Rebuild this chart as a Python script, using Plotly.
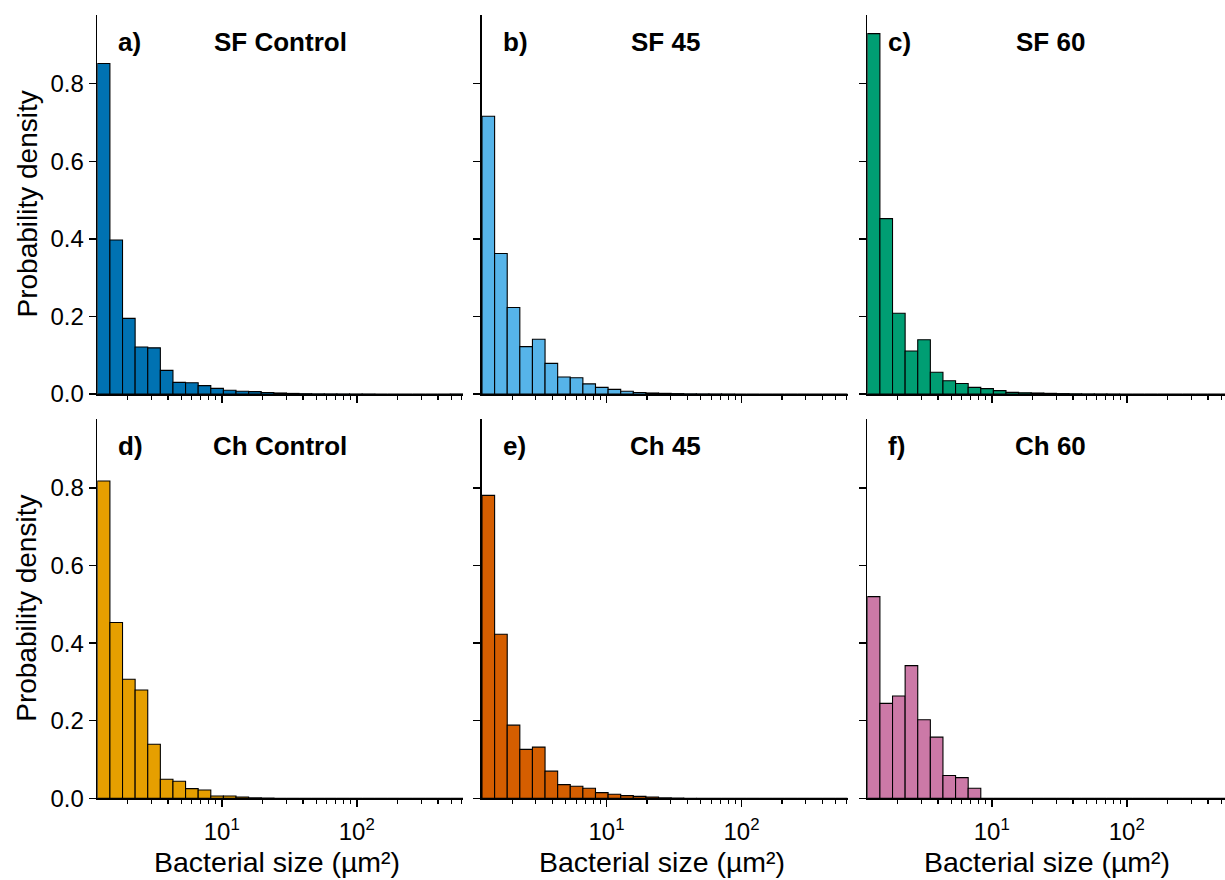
import numpy as np
import plotly.graph_objects as go

# ---- data ----
panel_letters = ["a)", "b)", "c)", "d)", "e)", "f)"]
panel_titles = ["SF Control", "SF 45", "SF 60", "Ch Control", "Ch 45", "Ch 60"]
colors = ["#0072B2", "#56B4E9", "#009E73", "#E69F00", "#D55E00", "#CC79A7"]

log_min = 0.078   # log10 of smallest bacterial size (~1.2 um^2)
log_max = 2.787   # log10 of largest bacterial size (~612 um^2)
n_bins = 29

sf_control = [0.852, 0.397, 0.195, 0.121, 0.119, 0.061, 0.030, 0.029, 0.0215, 0.0146,
              0.0095, 0.007, 0.006, 0.004, 0.0026, 0.0015, 0.0008, 0.0004, 0.0003, 0.0002,
              0.0001, 0.0001, 0.0, 0.0, 0.0, 0.0, 0.0, 0.0, 0.0001]
sf_45 = [0.716, 0.362, 0.223, 0.122, 0.141, 0.079, 0.044, 0.042, 0.026, 0.017,
         0.012, 0.007, 0.004, 0.0026, 0.0017, 0.001, 0.0005, 0.0003, 0.0002, 0.0001,
         0.0, 0.0, 0.0, 0.0, 0.0, 0.0, 0.0, 0.0, 0.0]
sf_60 = [0.929, 0.452, 0.208, 0.111, 0.140, 0.056, 0.034, 0.027, 0.017, 0.0138,
         0.0086, 0.0043, 0.0034, 0.0026, 0.0017, 0.001, 0.0006, 0.0003, 0.0002, 0.0001,
         0.0, 0.0, 0.0, 0.0, 0.0, 0.0, 0.0, 0.0, 0.0]
ch_control = [0.818, 0.453, 0.307, 0.279, 0.1395, 0.049, 0.044, 0.025, 0.0215, 0.006,
              0.006, 0.0035, 0.001, 0.0005, 0.0, 0.0, 0.0, 0.0, 0.0, 0.0,
              0.0, 0.0, 0.0, 0.0, 0.0, 0.0, 0.0, 0.0, 0.0]
ch_45 = [0.781, 0.423, 0.1886, 0.126, 0.132, 0.070, 0.0353, 0.031, 0.0258, 0.0146,
         0.0103, 0.0069, 0.005, 0.0034, 0.001, 0.0005, 0.0002, 0.0, 0.0, 0.0,
         0.0, 0.0, 0.0, 0.0, 0.0, 0.0, 0.0, 0.0, 0.0]
ch_60 = [0.520, 0.2446, 0.2636, 0.342, 0.2024, 0.1576, 0.0586, 0.0534, 0.0258, 0.0,
         0.0, 0.0, 0.0, 0.0, 0.0, 0.0, 0.0, 0.0, 0.0, 0.0,
         0.0, 0.0, 0.0, 0.0, 0.0, 0.0, 0.0, 0.0, 0.0]
series = [sf_control, sf_45, sf_60, ch_control, ch_45, ch_60]

y_tickvals = [0.0, 0.2, 0.4, 0.6, 0.8]
y_ticktext = ["0.0", "0.2", "0.4", "0.6", "0.8"]
x_tickvals = [10, 100]
x_ticktext = ["10<sup>1</sup>", "10<sup>2</sup>"]
x_minor = [2, 3, 4, 5, 6, 7, 8, 9, 20, 30, 40, 50, 60, 70, 80, 90, 200, 300, 400, 500, 600]
y_max = 0.977

# ---- layout geometry (reference pixels, 1225 x 880 target) ----
W, H_REF = 1225, 880
H = 893  # page is rendered slightly squeezed vertically; positions below use fractions of H_REF
px_per_decade = (463 - 97.3) / (log_max - log_min)
col_left = [97.3, 482.0, 867.3]
col_right = [463.0, 847.5, 1225.0]
row_top = [15.0, 419.3]
row_bot = [394.0, 798.3]

edges = np.logspace(log_min, log_max, n_bins + 1)
centers = (edges[:-1] + edges[1:]) / 2
widths = edges[1:] - edges[:-1]

FONT = "Liberation Sans, Arial, sans-serif"
fig = go.Figure()
annotations = []

for i in range(6):
    r, c = divmod(i, 3)
    idx = "" if i == 0 else str(i + 1)
    xa, ya = "x" + idx, "y" + idx
    fig.add_trace(go.Bar(
        x=centers, y=series[i], width=widths,
        marker=dict(color=colors[i], line=dict(color="black", width=1.1)),
        xaxis=xa, yaxis=ya, showlegend=False, hoverinfo="skip",
    ))
    x0 = col_left[c] / W
    x1 = col_right[c] / W
    right_log = log_min + (col_right[c] - col_left[c]) / px_per_decade
    y0 = 1 - row_bot[r] / H_REF
    y1 = 1 - row_top[r] / H_REF
    fig.layout["xaxis" + idx] = dict(
        type="log", domain=[x0, x1], range=[log_min, right_log], anchor=ya,
        showline=True, linecolor="black", linewidth=1.6, showgrid=False, zeroline=False,
        tickvals=x_tickvals, ticktext=x_ticktext if r == 1 else ["", ""],
        showticklabels=(r == 1), ticklabelstandoff=4,
        ticks="outside", ticklen=7, tickwidth=1.5, tickcolor="black",
        minor=dict(tickvals=x_minor, ticks="outside", ticklen=4, tickwidth=1.2,
                   tickcolor="black", showgrid=False),
        tickfont=dict(family=FONT, size=24, color="black"),
        fixedrange=True,
    )
    fig.layout["yaxis" + idx] = dict(
        domain=[y0, y1], range=[0, y_max], anchor=xa,
        showline=True, linecolor="black", linewidth=1.6, showgrid=False, zeroline=False,
        tickvals=y_tickvals, ticktext=y_ticktext, showticklabels=(c == 0),
        ticks="outside", ticklen=7, tickwidth=1.5, tickcolor="black",
        tickfont=dict(family=FONT, size=24, color="black"),
        fixedrange=True,
    )
    full_w = 366.0
    annotations.append(dict(
        x=(col_left[c] + 19) / W, y=1 - (row_top[r] + 27) / H_REF, xref="paper", yref="paper",
        text="<b>" + panel_letters[i] + "</b>", showarrow=False, xanchor="left", yanchor="middle",
        font=dict(family=FONT, size=26, color="black")))
    annotations.append(dict(
        x=(col_left[c] + full_w / 2) / W, y=1 - (row_top[r] + 27) / H_REF, xref="paper", yref="paper",
        text="<b>" + panel_titles[i] + "</b>", showarrow=False, xanchor="center", yanchor="middle",
        font=dict(family=FONT, size=26, color="black")))
    if r == 1:
        annotations.append(dict(
            x=(col_left[c] + full_w / 2 - 3) / W, y=1 - 862 / H_REF, xref="paper", yref="paper",
            text="Bacterial size (µm²)", showarrow=False, xanchor="center", yanchor="middle",
            font=dict(family=FONT, size=28.5, color="black")))
    if c == 0:
        annotations.append(dict(
            x=27 / W, y=1 - (row_top[r] + row_bot[r]) / 2 / H_REF, xref="paper", yref="paper",
            text="Probability density", showarrow=False, textangle=-90,
            xanchor="center", yanchor="middle",
            font=dict(family=FONT, size=28, color="black")))

fig.update_layout(
    width=W, height=H, margin=dict(l=0, r=0, t=0, b=0),
    paper_bgcolor="white", plot_bgcolor="white",
    annotations=annotations, bargap=0, hovermode=False,
    font=dict(family=FONT, color="black"),
)
fig.write_html(
    "out.html",
    config={"displayModeBar": False, "staticPlot": True},
    post_script=(
        "document.documentElement.style.margin='0';"
        "document.body.style.margin='0';"
        "document.body.style.padding='0';"
    ),
)
